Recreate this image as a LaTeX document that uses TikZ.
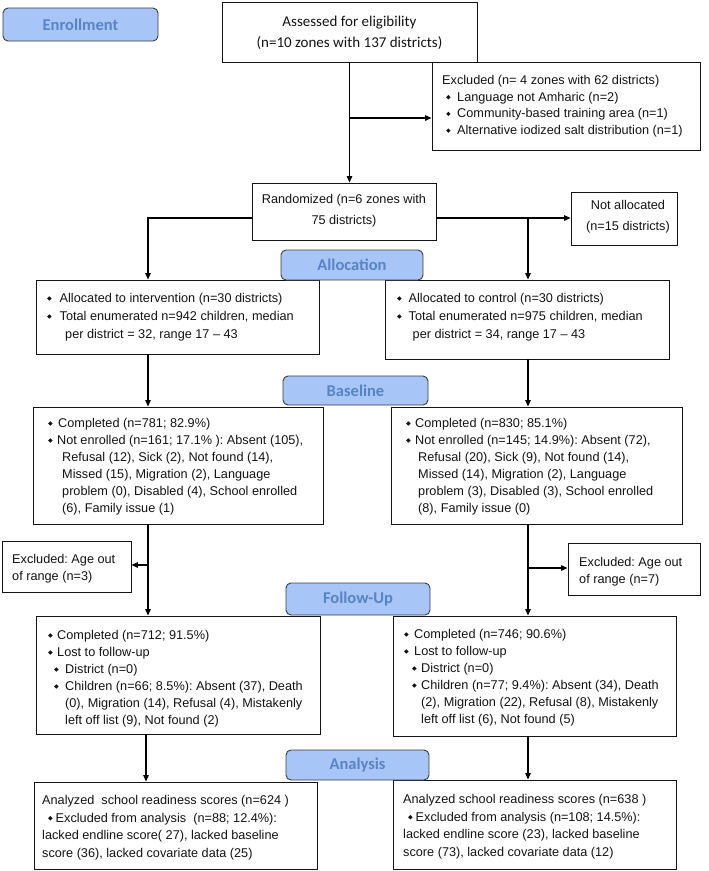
\documentclass[tikz,border=0pt]{standalone}
\usepackage{fontspec}
\setmainfont{Liberation Sans}
\newfontfamily\calf{Carlito}
\usetikzlibrary{arrows.meta}
\definecolor{lblfill}{RGB}{168,197,247}
\definecolor{lbltext}{RGB}{88,132,196}
\definecolor{lbldraw}{RGB}{60,60,60}
\definecolor{ink}{RGB}{20,20,20}
\frenchspacing
\newcommand\dmd{\raisebox{1.8pt}{\rotatebox{45}{\rule{3.1pt}{3.1pt}}}}
\newcommand\bl[1][10pt]{\makebox[#1][l]{\dmd}}
\begin{document}
\begin{tikzpicture}[x=1pt,y=-1pt,
  box/.style={draw=ink, line width=0.9pt, inner sep=0, fill=white},
  lbl/.style={draw=lbldraw, fill=lblfill, rounded corners=5pt, line width=0.9pt, text=lbltext,
    font=\calf\bfseries\fontsize{16.5}{18}\selectfont, inner sep=0},
  txt/.style={anchor=base west, inner sep=0, text=ink, font=\fontsize{12.7}{17}\selectfont},
  ctxt/.style={inner sep=0, text=ink, align=center},
  arr/.style={draw=black, line width=1.2pt, -{Triangle[length=6.5pt,width=5.5pt]}},
  ln/.style={draw=black, line width=1.2pt}]
\fill[white] (0,0) rectangle (709,871);
\useasboundingbox (0,0) rectangle (709,871);

% boxes
\node[box, minimum width=255pt, minimum height=60pt] (assess) at (349.5,32) {};
\node[box, minimum width=268pt, minimum height=88pt] (excl) at (566,106) {};
\node[box, minimum width=184pt, minimum height=57pt] (rand) at (344,211.5) {};
\node[box, minimum width=106pt, minimum height=53pt] (notal) at (624,218.5) {};
\node[box, minimum width=283pt, minimum height=74pt] (ia) at (177.5,317) {};
\node[box, minimum width=284pt, minimum height=79pt] (ca) at (527,319.5) {};
\node[box, minimum width=290pt, minimum height=117pt] (ib) at (178,465.5) {};
\node[box, minimum width=291pt, minimum height=117pt] (cb) at (536.5,465.5) {};
\node[box, minimum width=129pt, minimum height=51pt] (ex1) at (66.5,566.5) {};
\node[box, minimum width=132pt, minimum height=52pt] (ex2) at (634,569) {};
\node[box, minimum width=284pt, minimum height=118pt] (ifu) at (178,675) {};
\node[box, minimum width=283pt, minimum height=120pt] (cfu) at (534.5,676) {};
\node[box, minimum width=283pt, minimum height=87pt] (ian) at (175.5,825.5) {};
\node[box, minimum width=283pt, minimum height=89pt] (can) at (534.5,824.5) {};

% stage labels
\node[lbl, minimum width=155pt, minimum height=33pt] (l1) at (80.5,24.5) {Enrollment};
\node[lbl, minimum width=142pt, minimum height=30pt] (l2) at (352,265) {Allocation};
\node[lbl, minimum width=145pt, minimum height=29pt] (l3) at (355.5,390.5) {Baseline};
\node[lbl, minimum width=144pt, minimum height=32pt] (l4) at (358,599) {Follow-Up};
\node[lbl, minimum width=143pt, minimum height=30pt] (l5) at (357.5,765) {Analysis};

% texts
\node[ctxt, font=\calf\fontsize{15}{21}\selectfont] (tassess) at (349.5,33)
  {Assessed for eligibility\\(n=10 zones with 137 districts)};
\node[txt, font=\fontsize{12.7}{16.7}\selectfont] (texcl) at (442,84.5) {\parbox[t]{255pt}{%
Excluded (n= 4 zones with 62 districts)\\
\hspace*{4pt}\bl[11pt]Language not Amharic (n=2)\\
\hspace*{4pt}\bl[11pt]Community-based training area (n=1)\\
\hspace*{4pt}\bl[11pt]Alternative iodized salt distribution (n=1)}};
\node[ctxt, font=\fontsize{12.7}{21}\selectfont] (trand) at (344,211)
  {Randomized (n=6 zones with\\75 districts)};
\node[ctxt, font=\fontsize{12.7}{21}\selectfont] (tnotal) at (628,217)
  {Not allocated\\(n=15 districts)};
\node[txt, font=\fontsize{12.7}{18}\selectfont] (tia) at (47,302.5) {\parbox[t]{270pt}{%
\bl[12.5pt]Allocated to intervention (n=30 districts)\\
\bl[12.5pt]Total enumerated n=942 children, median\\
\hspace*{18pt}per district = 32, range 17 -- 43}};
\node[txt, font=\fontsize{12.7}{18}\selectfont] (tca) at (397,302.5) {\parbox[t]{270pt}{%
\bl[11.5pt]Allocated to control (n=30 districts)\\
\bl[11.5pt]Total enumerated n=975 children, median\\
\hspace*{15.5pt}per district = 34, range 17 -- 43}};
\node[txt] (tib) at (48,427.5) {\parbox[t]{270pt}{%
\bl[10pt]Completed (n=781; 82.9\%)\\
\bl[9pt]Not enrolled (n=161; 17.1\% ): Absent (105),\\
\hspace*{14pt}Refusal (12), Sick (2), Not found (14),\\
\hspace*{14pt}Missed (15), Migration (2), Language\\
\hspace*{14pt}problem (0), Disabled (4), School enrolled\\
\hspace*{14pt}(6), Family issue (1)}};
\node[txt] (tcb) at (406,427.5) {\parbox[t]{270pt}{%
\bl[9pt]Completed (n=830; 85.1\%)\\
\bl[9pt]Not enrolled (n=145; 14.9\%): Absent (72),\\
\hspace*{12pt}Refusal (20), Sick (9), Not found (14),\\
\hspace*{12pt}Missed (14), Migration (2), Language\\
\hspace*{12pt}problem (3), Disabled (3), School enrolled\\
\hspace*{12pt}(8), Family issue (0)}};
\node[txt] (tex1) at (12,563.5) {\parbox[t]{120pt}{Excluded: Age out\\of range (n=3)}};
\node[txt] (tex2) at (579,566.5) {\parbox[t]{120pt}{Excluded: Age out\\of range (n=7)}};
\node[txt] (tifu) at (48,639.5) {\parbox[t]{270pt}{%
\bl[9pt]Completed (n=712; 91.5\%)\\
\bl[9pt]Lost to follow-up\\
\hspace*{6pt}\bl[11pt]District (n=0)\\
\hspace*{6pt}\bl[11pt]Children (n=66; 8.5\%): Absent (37), Death\\
\hspace*{17pt}(0), Migration (14), Refusal (4), Mistakenly\\
\hspace*{17pt}left off list (9), Not found (2)}};
\node[txt] (tcfu) at (404,638.5) {\parbox[t]{270pt}{%
\bl[10pt]Completed (n=746; 90.6\%)\\
\bl[10pt]Lost to follow-up\\
\hspace*{8pt}\bl[9pt]District (n=0)\\
\hspace*{8pt}\bl[9pt]Children (n=77; 9.4\%): Absent (34), Death\\
\hspace*{17pt}(2), Migration (22), Refusal (8), Mistakenly\\
\hspace*{17pt}left off list (6), Not found (5)}};
\node[txt, font=\fontsize{12.7}{17.7}\selectfont] (tian) at (42,804.5) {\parbox[t]{270pt}{%
Analyzed\ \ school readiness scores (n=624 )\\
\hspace*{6pt}\bl[7.5pt]Excluded from analysis\ \ (n=88; 12.4\%):\\
lacked endline score( 27), lacked baseline\\
score (36), lacked covariate data (25)}};
\node[txt, font=\fontsize{12.7}{17.7}\selectfont] (tcan) at (403,803.5) {\parbox[t]{270pt}{%
Analyzed school readiness scores (n=638 )\\
\hspace*{5pt}\bl[7.5pt]Excluded from analysis (n=108; 14.5\%):\\
lacked endline score (23), lacked baseline\\
score (73), lacked covariate data (12)}};

% junction coordinates
\coordinate (cl) at (148,0);
\coordinate (cl2) at (146,0);
\coordinate (cr) at (528,0);
\coordinate (j1) at (349.5,118);
\coordinate (j2) at (436,218);
\coordinate (j3) at (528,218);
\coordinate (j4) at (252,218);
\coordinate (j5) at (148,218);
\coordinate (j6) at (148,565);
\coordinate (j7) at (528,568);

% connectors
\draw[arr] (assess.south) -- (assess.south |- rand.north);
\draw[arr] (j1) -- (j1 -| excl.west);
\draw[arr] (j2) -- (j2 -| notal.west);
\draw[arr] (j3) -- (j3 |- ca.north);
\draw[arr] (j4) -- (j5) -- (j5 |- ia.north);
\draw[arr] (cl |- ia.south) -- (cl |- ib.north);
\draw[arr] (cr |- ca.south) -- (cr |- cb.north);
\draw[arr] (cl |- ib.south) -- (cl |- ifu.north);
\draw[arr] (cr |- cb.south) -- (cr |- cfu.north);
\draw[arr] (j6) -- (j6 -| ex1.east);
\draw[arr] (j7) -- (j7 -| ex2.west);
\draw[arr] (cl2 |- ifu.south) -- (cl2 |- ian.north);
\draw[arr] (cr |- cfu.south) -- (cr |- can.north);
\end{tikzpicture}
\end{document}
